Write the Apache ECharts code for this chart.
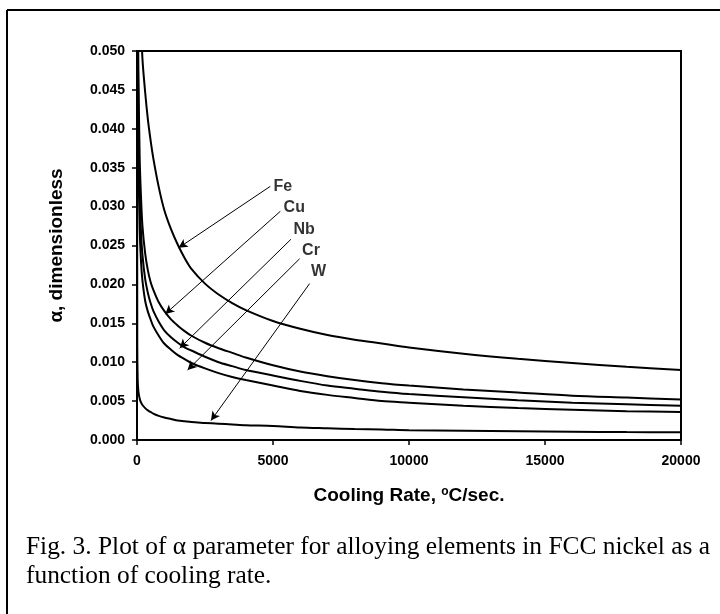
<!DOCTYPE html>
<html>
<head>
<meta charset="utf-8">
<script src="https://cdn.jsdelivr.net/npm/echarts@6/dist/echarts.min.js"></script>
<style>
  html, body { margin: 0; padding: 0; background: #fff; }
  #chart { width: 720px; height: 614px; }
</style>
</head>
<body>
<div id="chart"></div>
<script>
// cooling rate (°C/sec) sample points
var rates = [2, 10, 25, 50, 100, 150, 200, 300, 400, 500, 600, 800, 1000, 1250, 1500, 1750, 2000, 2500, 3000, 3500, 4000,
  5000, 6000, 7000, 8000, 9000, 10000, 12000, 14000, 16000, 18000, 20000];
// alpha values (null = off the top of the plot)
var feVals = [null, null, null, null, 0.062, 0.054, 0.049, 0.0447, 0.0412, 0.0385, 0.0362, 0.0325, 0.0296, 0.0271, 0.0251, 0.0234, 0.0220, 0.0201, 0.0187, 0.0176, 0.0167,
  0.0153, 0.0143, 0.0135, 0.0129, 0.0124, 0.0119, 0.0111, 0.01045, 0.0099, 0.0094, 0.0090];
var cuVals = [null, 0.09, 0.062, 0.048, 0.036, 0.031, 0.0275, 0.0240, 0.0218, 0.0203, 0.0193, 0.0177, 0.0166, 0.0155, 0.0147, 0.0140, 0.0134, 0.0125, 0.0118, 0.0112, 0.0106,
  0.0096, 0.0088, 0.0082, 0.0077, 0.0073, 0.0070, 0.0065, 0.0061, 0.0057, 0.00545, 0.0052];
var nbVals = [null, 0.08, 0.055, 0.042, 0.031, 0.0265, 0.0238, 0.0207, 0.0189, 0.0176, 0.0166, 0.0152, 0.0141, 0.0132, 0.0125, 0.0119, 0.0115, 0.0107, 0.0100, 0.0095, 0.0090,
  0.0083, 0.0076, 0.0070, 0.0066, 0.0062, 0.0059, 0.0055, 0.0051, 0.0048, 0.0046, 0.0044];
var crVals = [null, 0.07, 0.049, 0.037, 0.027, 0.0228, 0.0205, 0.0179, 0.0165, 0.0155, 0.0146, 0.0134, 0.0124, 0.0116, 0.0109, 0.0104, 0.0099, 0.0092, 0.0086, 0.0081, 0.0077,
  0.0070, 0.0063, 0.0058, 0.0054, 0.0050, 0.0048, 0.0044, 0.0041, 0.0039, 0.0037, 0.0036];
var wVals = [0.06, 0.0125, 0.0078, 0.0063, 0.0053, 0.0048, 0.0045, 0.0041, 0.0038, 0.0036, 0.0034, 0.0031, 0.0029, 0.0027, 0.0025, 0.0024, 0.0023, 0.0022, 0.0021, 0.0020, 0.0019,
  0.0018, 0.0016, 0.0015, 0.0014, 0.00135, 0.00125, 0.0012, 0.00113, 0.00107, 0.00102, 0.0010];

// labels and the arrows pointing from them to the curves
var elements = ['Fe', 'Cu', 'Nb', 'Cr', 'W'];
var labelX = [5020, 5390, 5750, 6070, 6400];
var labelY = [0.0326, 0.0299, 0.0270, 0.0243, 0.0216];
var arrowFrom = [[4900, 0.0326], [5270, 0.0294], [5660, 0.0258], [5980, 0.0233], [6345, 0.0201]];
var arrowTo = [[1530, 0.0247], [1040, 0.0162], [1570, 0.0118], [1860, 0.0090], [2720, 0.0025]];

var font = 'Liberation Sans, Arial, sans-serif';
var serif = 'Liberation Serif, Times New Roman, serif';

function pairs(vals) {
  var out = [];
  vals.forEach(function (v, i) {
    if (v !== null) out.push([rates[i], v]);
  });
  return out;
}

function curve(name, vals) {
  return {
    name: name,
    type: 'line',
    data: pairs(vals),
    showSymbol: false,
    smooth: 0.3,
    clip: true,
    lineStyle: {color: '#000', width: 2},
    silent: true
  };
}

var chart = echarts.init(document.getElementById('chart'));
var arrows = arrowFrom.map(function (f, i) {
  return [{coord: f}, {coord: arrowTo[i]}];
});

var option = {
  backgroundColor: '#fff',
  animation: false,
  grid: {
    left: 137, right: 39, top: 51, bottom: 174,
    show: true, borderColor: '#000', borderWidth: 2
  },
  xAxis: {
    type: 'value',
    min: 0, max: 20000, interval: 5000,
    name: 'Cooling Rate, {sup|o}C/sec.',
    nameLocation: 'middle',
    nameGap: 46,
    nameTextStyle: {
      fontFamily: font, fontWeight: 'bold', fontSize: 19, color: '#000',
      rich: {
        sup: {fontFamily: font, fontWeight: 'bold', fontSize: 12, color: '#000', verticalAlign: 'top', padding: [0, 0, 8, 0]}
      }
    },
    axisLine: {lineStyle: {color: '#000', width: 2}},
    axisTick: {inside: false, length: 5, lineStyle: {color: '#000', width: 1.5}},
    axisLabel: {
      fontFamily: font, fontWeight: 'bold', fontSize: 14, color: '#000', margin: 14,
      formatter: function (v) { return String(v); }
    },
    splitLine: {show: false}
  },
  yAxis: {
    type: 'value',
    min: 0, max: 0.05, interval: 0.005,
    name: 'α, dimensionless',
    nameLocation: 'middle',
    nameGap: 71,
    nameTextStyle: {fontFamily: font, fontWeight: 'bold', fontSize: 19, color: '#000'},
    axisLine: {lineStyle: {color: '#000', width: 2}},
    axisTick: {inside: false, length: 5, lineStyle: {color: '#000', width: 1.5}},
    axisLabel: {
      fontFamily: font, fontWeight: 'bold', fontSize: 14, color: '#000', margin: 12,
      formatter: function (v) { return v.toFixed(3); }
    },
    splitLine: {show: false}
  },
  series: [
    curve('Fe', feVals),
    curve('Cu', cuVals),
    curve('Nb', nbVals),
    curve('Cr', crVals),
    curve('W', wVals),
    {
      name: 'labels',
      type: 'scatter',
      symbolSize: 0,
      silent: true,
      data: elements.map(function (el, i) { return {name: el, value: [labelX[i], labelY[i]]}; }),
      label: {
        show: true, position: 'right', distance: 0,
        formatter: '{b}',
        fontFamily: font, fontWeight: 'bold', fontSize: 16, color: '#000'
      },
      markLine: {
        silent: true,
        symbol: ['none', 'arrow'],
        symbolSize: [7, 9],
        label: {show: false},
        lineStyle: {color: '#000', width: 1, type: 'solid'},
        data: arrows
      }
    }
  ],
  graphic: [
    {type: 'line', shape: {x1: 7, y1: 10, x2: 720, y2: 10}, style: {stroke: '#000', lineWidth: 2}},
    {type: 'line', shape: {x1: 7, y1: 10, x2: 7, y2: 614}, style: {stroke: '#000', lineWidth: 2}},
    {
      type: 'text', left: 26, top: 533,
      style: {
        text: 'Fig. 3. Plot of α parameter for alloying elements in FCC nickel as a\nfunction of cooling rate.',
        font: '25.4px ' + serif, fill: '#000', lineHeight: 29
      }
    }
  ]
};
chart.setOption(option);
</script>
</body>
</html>
